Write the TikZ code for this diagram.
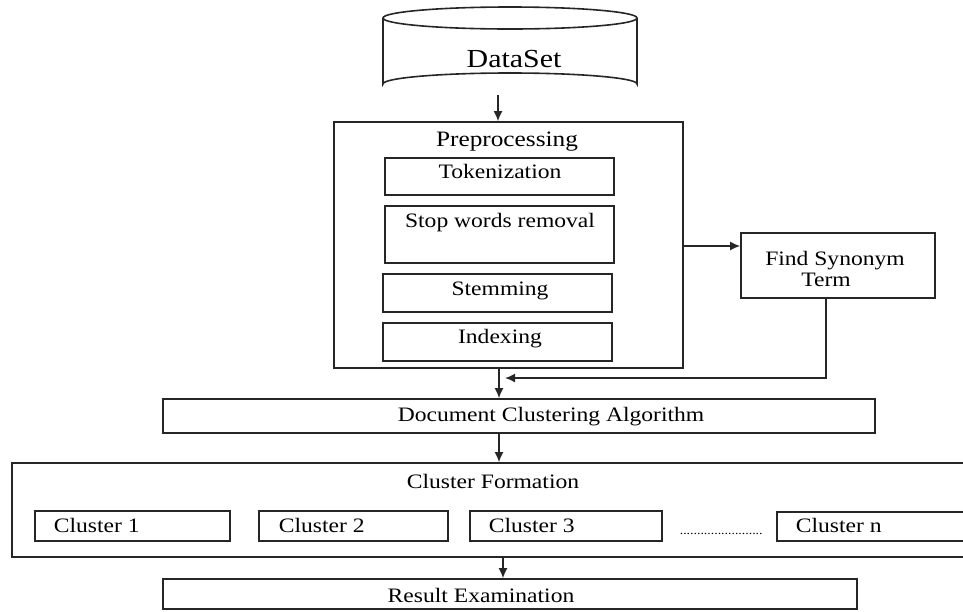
\documentclass[tikz,border=0pt]{standalone}
\usepackage{fontspec}
\setmainfont{Liberation Serif}[FakeStretch=1.15]
\usetikzlibrary{arrows.meta}
\begin{document}
\begin{tikzpicture}[x=1pt,y=-1pt,
  line width=1.6pt, draw=black!85,
  box/.style={draw, rectangle, inner sep=0pt, fill=white},
  lbl/.style={anchor=base, inner sep=0pt, text=black, font=\fontsize{20.5}{22}\selectfont},
  llbl/.style={anchor=base west, inner sep=0pt, text=black, font=\fontsize{20.5}{22}\selectfont},
  arr/.style={draw, -{Latex[length=10pt,width=9pt]}, line width=1.6pt}]
\clip (0,0) rectangle (963,611);
\fill[white] (0,0) rectangle (963,611);
% cylinder
\draw (383,18) -- (383,84) arc[start angle=180,end angle=360,x radius=127,y radius=11] -- (637,18);
\draw (510,18) ellipse [x radius=127, y radius=11];
\node[lbl, font=\fontsize{26}{28}\selectfont] (dstxt) at (514,67) {DataSet};
\coordinate (dsb) at (498,95);
% preprocessing
\node[box, minimum width=349pt, minimum height=246pt] (pre) at (508.5,245) {};
\node[lbl, font=\fontsize{22}{24}\selectfont] (pretxt) at (507,146) {Preprocessing};
\node[box, minimum width=229pt, minimum height=37pt] (tok) at (499.5,176.5) {};
\node[lbl] (toktxt) at (500,178) {Tokenization};
\node[box, minimum width=229pt, minimum height=57pt] (stop) at (499.5,234.5) {};
\node[lbl] (stoptxt) at (500,227) {Stop words removal};
\node[box, minimum width=229pt, minimum height=38pt] (stem) at (497.5,293) {};
\node[lbl] (stemtxt) at (500,295) {Stemming};
\node[box, minimum width=229pt, minimum height=38pt] (idx) at (497.5,342) {};
\node[lbl] (idxtxt) at (500,343) {Indexing};
% find synonym
\node[box, minimum width=194pt, minimum height=65pt] (fs) at (838,265.5) {};
\node[lbl] (fstxt1) at (835,265) {Find Synonym};
\node[lbl] (fstxt2) at (826,286) {Term};
% document clustering
\node[box, minimum width=712pt, minimum height=34pt] (dca) at (519,416) {};
\node[lbl] (dcatxt) at (551,421) {Document Clustering Algorithm};
% cluster formation
\node[box, minimum width=968pt, minimum height=94pt] (cf) at (496,510) {};
\node[lbl] (cftxt) at (493,488) {Cluster Formation};
\node[box, minimum width=195pt, minimum height=30pt] (c1) at (132.5,526) {};
\node[llbl] (c1txt) at (53,532) {Cluster 1};
\node[box, minimum width=189pt, minimum height=30pt] (c2) at (353.5,526) {};
\node[llbl] (c2txt) at (278,532) {Cluster 2};
\node[box, minimum width=192pt, minimum height=30pt] (c3) at (566,526) {};
\node[llbl] (c3txt) at (488,532) {Cluster 3};
\node[llbl, font=\fontsize{12}{12}\selectfont] (dots) at (679,534) {........................};
\node[box, minimum width=208pt, minimum height=29pt] (cn) at (881,526.5) {};
\node[llbl] (cntxt) at (795,532) {Cluster n};
% result
\node[box, minimum width=694pt, minimum height=30pt] (re) at (510,594) {};
\node[lbl] (retxt) at (481,602) {Result Examination};
% connectors
\coordinate (axis) at (499,0);
\coordinate (axisb) at (503,0);
\coordinate (fsy) at (0,246);
\coordinate (fsx) at (826,0);
\coordinate (fb) at (505,378);
\draw[arr] (dsb) -- (pre.north -| dsb);
\draw[arr] (pre.east |- fsy) -- (fs.west |- fsy);
\draw[arr] (fs.south -| fsx) |- (fb);
\draw[arr] (pre.south -| axis) -- (dca.north -| axis);
\draw[arr] (dca.south -| axis) -- (cf.north -| axis);
\draw[arr] (cf.south -| axisb) -- (re.north -| axisb);
\end{tikzpicture}
\end{document}
